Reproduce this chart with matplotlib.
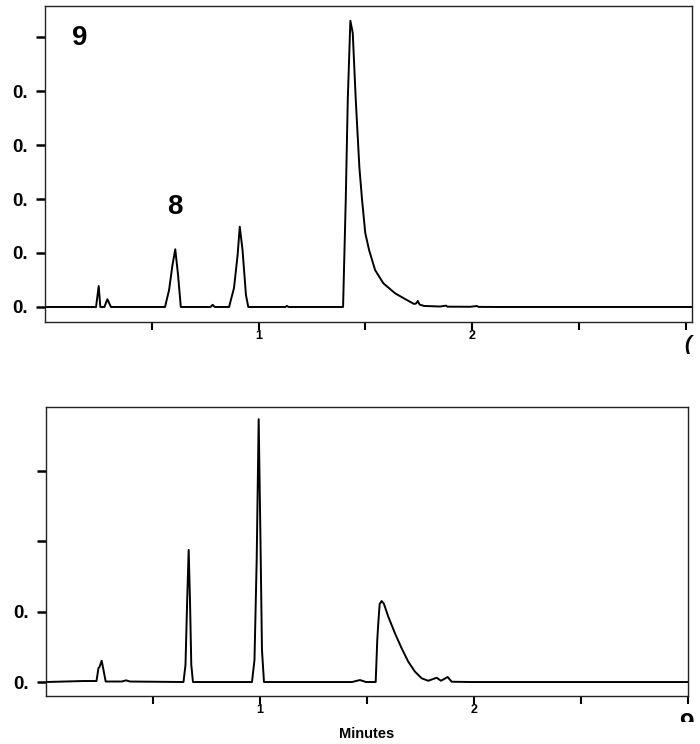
import matplotlib
matplotlib.use("Agg")
import matplotlib.pyplot as plt
from matplotlib.transforms import Bbox, TransformedBbox

plt.rcParams['font.family'] = ['Liberation Sans', 'DejaVu Sans']
plt.rcParams['font.weight'] = 'bold'

# top chromatogram (minutes, absorbance)
top_t = [0.0, 0.220, 0.239, 0.2515, 0.259, 0.278, 0.292, 0.309,
         0.562, 0.581, 0.597, 0.610, 0.623, 0.636,
         0.775, 0.785, 0.795,
         0.862, 0.885, 0.902, 0.912, 0.925, 0.941, 0.952,
         1.125, 1.133, 1.141,
         1.3958, 1.4084, 1.4178, 1.430, 1.4412, 1.4553, 1.4721, 1.4848,
         1.4998, 1.5176, 1.5457, 1.5845, 1.6393, 1.6941, 1.7283, 1.7377,
         1.7457, 1.7541, 1.7752, 1.8501, 1.878, 1.885, 1.9906, 2.023,
         2.030, 2.1311, 3.03]
top_a = [0.0, 0.0, 0.0, 0.0389, 0.0, 0.0, 0.0143, 0.0,
         0.0, 0.0315, 0.0778, 0.1069, 0.0593, 0.0,
         0.0, 0.004, 0.0,
         0.0, 0.0352, 0.0963, 0.1487, 0.1056, 0.0222, 0.0,
         0.0, 0.002, 0.0,
         0.0, 0.1981, 0.3833, 0.5302, 0.5074, 0.3833, 0.2593, 0.1981,
         0.1370, 0.1056, 0.0685, 0.0439, 0.0254, 0.0130, 0.0056, 0.0065,
         0.0111, 0.0046, 0.0019, 0.0009, 0.0025, 0.0006, 0.0004, 0.0018,
         0.0002, 0.0, 0.0]

# bottom chromatogram
bot_t = [0.0, 0.173, 0.2360, 0.2453, 0.2500, 0.2603, 0.2687, 0.2790,
         0.3551, 0.3738, 0.3925,
         0.6425, 0.6519, 0.6598, 0.6668, 0.6729, 0.6790, 0.6869,
         0.9626, 0.9743, 0.9846, 0.9939, 1.0023, 1.0093, 1.0187,
         1.4299, 1.4673, 1.4953,
         1.5407, 1.5481, 1.5528, 1.5593, 1.5687, 1.5794, 1.5995, 1.6308,
         1.6621, 1.6930, 1.7243, 1.7556, 1.7864, 1.8257, 1.8458, 1.8771,
         1.8958, 1.9813, 3.0]
bot_a = [0.0, 0.0014, 0.0014, 0.0199, 0.0213, 0.0303, 0.0171, 0.0007,
         0.0007, 0.0024, 0.0007,
         0.0, 0.0242, 0.1166, 0.1878, 0.1166, 0.0242, 0.0,
         0.0, 0.0313, 0.1735, 0.3737, 0.2020, 0.0455, 0.0,
         0.0, 0.0028, 0.0,
         0.0, 0.0597, 0.0835, 0.1110, 0.1152, 0.1110, 0.0929, 0.0693,
         0.0479, 0.0289, 0.0147, 0.0053, 0.0018, 0.0061, 0.0018, 0.0071,
         0.0004, 0.0, 0.0]

x_ticks = [0.5, 1.0, 1.5, 2.0, 2.5, 3.0]
x_labels = ['', '1', '', '2', '', '']
top_yticks = [0.0, 0.1, 0.2, 0.3, 0.4, 0.5]
top_ylabels = ['0.', '0.', '0.', '0.', '0.', '']
bot_yticks = [0.0, 0.1, 0.2, 0.3]
bot_ylabels = ['0.', '0.', '', '']

fig = plt.figure(figsize=(7, 7.44), dpi=100)
ax1 = fig.add_axes([0.0643, 0.5672, 0.9243, 0.4247])
ax2 = fig.add_axes([0.0657, 0.0645, 0.9171, 0.3884])

setup = [(ax1, top_t, top_a, (0, 3.03), (-0.0278, 0.5574), top_yticks, top_ylabels),
         (ax2, bot_t, bot_a, (0, 3.0), (-0.0199, 0.391), bot_yticks, bot_ylabels)]

for ax, t, a, xl, yl, yt, ylab in setup:
    ax.plot(t, a, color='black', linewidth=1.4)
    ax.set_xlim(*xl)
    ax.set_ylim(*yl)
    ax.set_xticks(x_ticks)
    ax.set_xticklabels(x_labels, fontsize=9, fontweight='bold')
    ax.set_yticks(yt)
    ax.set_yticklabels(ylab, fontsize=13.5, fontweight='bold')
    ax.tick_params(axis='y', direction='out', length=6.5, width=1.8, pad=6)
    ax.tick_params(axis='x', direction='out', length=5.5, width=1.5, pad=0.5)
    for s in ax.spines.values():
        s.set_linewidth(1.0)
        s.set_color('#222222')

# peak labels, placed in pixel coords from the top-left
for lab, px, py in [('9', 80, 38), ('8', 175, 207)]:
    ax1.text(px, 744 - py, lab, transform=None, fontsize=20, fontweight='bold',
             ha='center', va='center')

ax2.set_xlabel('Minutes', fontsize=10.5, fontweight='bold', labelpad=8)

# cropped labels at the right edge
fig.text(688 / 700, 1 - 345 / 744, '(', fontsize=15, fontweight='bold',
         ha='center', va='center', style='italic')
t9 = fig.text(686 / 700, 1 - 724 / 744, '9', fontsize=19, fontweight='bold',
              ha='center', va='center')
t9.set_clip_box(TransformedBbox(Bbox([[0, 1 - 722 / 744], [1, 1]]), fig.transFigure))
t9.set_clip_on(True)

fig.savefig('out.png', dpi=100)
